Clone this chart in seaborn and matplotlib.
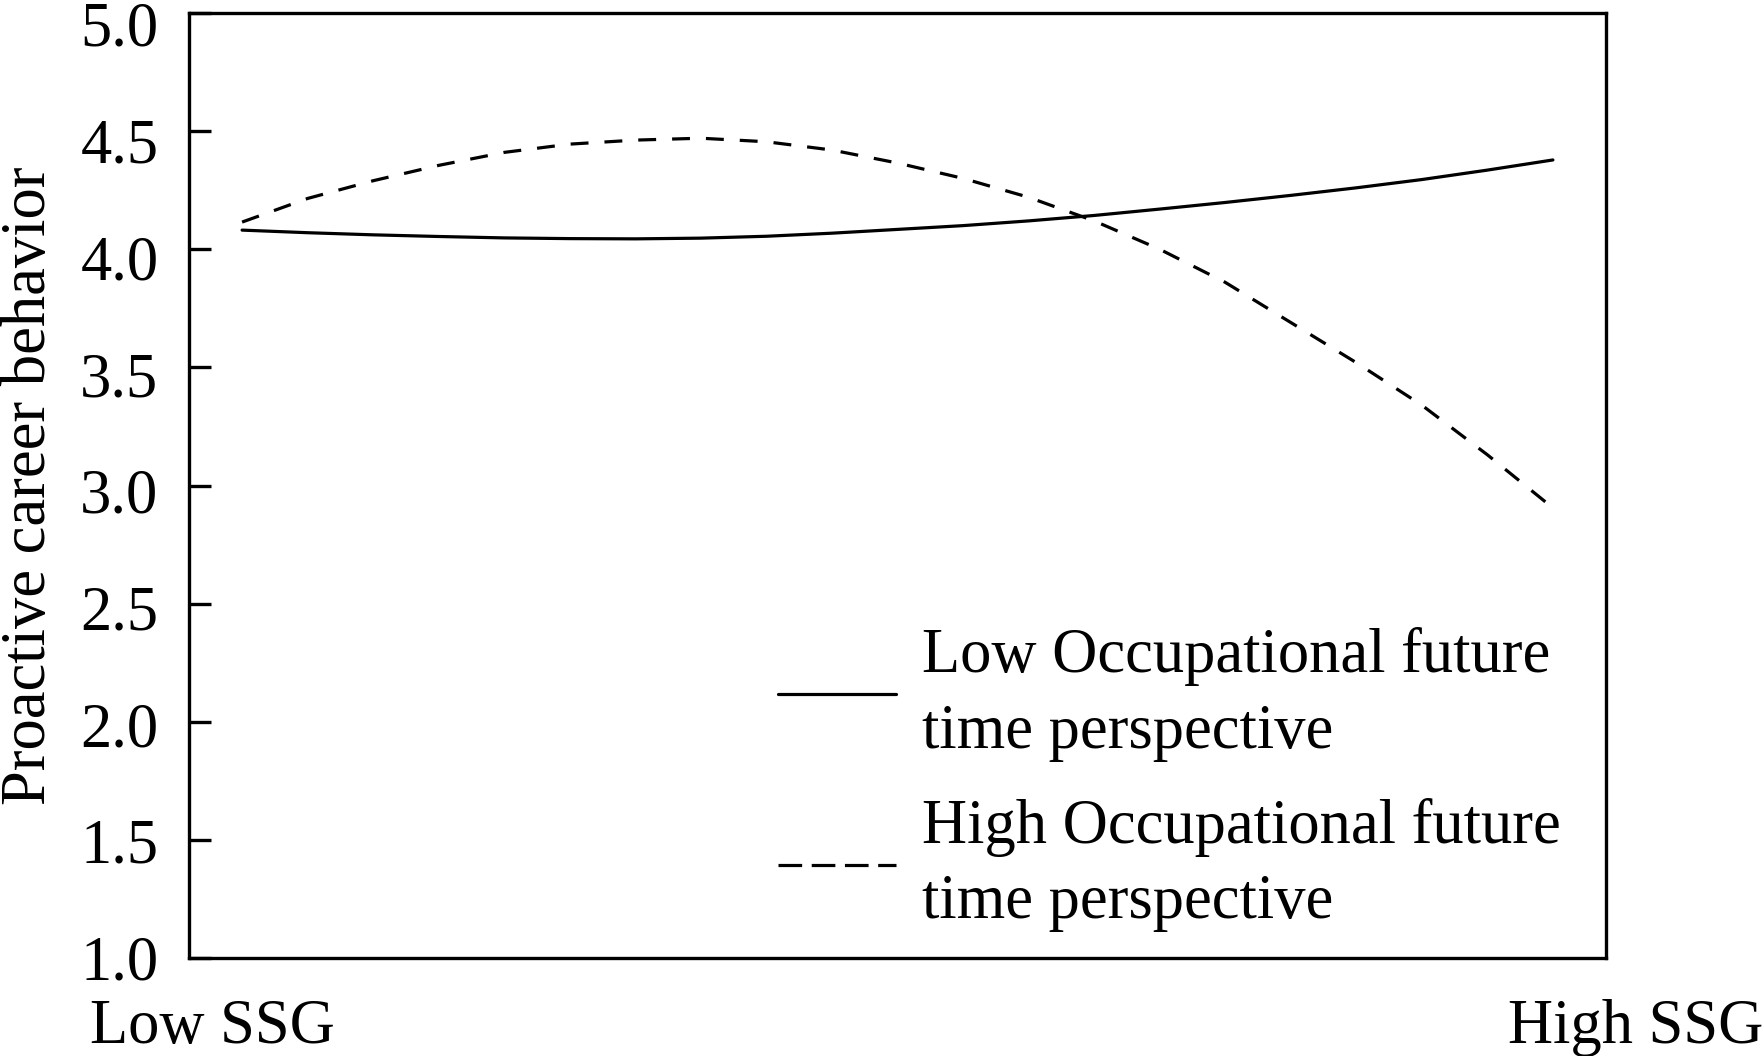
import pandas as pd
import matplotlib
matplotlib.use("Agg")
import matplotlib.pyplot as plt
import matplotlib.transforms as mtransforms
from matplotlib.lines import Line2D
import seaborn as sns

# x position along the SSG axis (0 = Low SSG, 1 = High SSG)
ssg = [0.00, 0.05, 0.10, 0.15, 0.20, 0.25, 0.30, 0.35, 0.40, 0.45, 0.50,
       0.55, 0.60, 0.65, 0.70, 0.75, 0.80, 0.85, 0.90, 0.95, 1.00]

low_oftp = [4.081, 4.070, 4.061, 4.054, 4.048, 4.045, 4.044, 4.047, 4.055, 4.068, 4.084,
            4.100, 4.120, 4.143, 4.170, 4.198, 4.228, 4.260, 4.295, 4.335, 4.378]
high_oftp = [4.115, 4.215, 4.290, 4.355, 4.410, 4.445, 4.462, 4.470, 4.455, 4.420, 4.365,
             4.300, 4.220, 4.120, 4.000, 3.860, 3.690, 3.520, 3.340, 3.130, 2.905]

labels = ["Low Occupational future\ntime perspective",
          "High Occupational future\ntime perspective"]
y_ticks = [1.0, 1.5, 2.0, 2.5, 3.0, 3.5, 4.0, 4.5, 5.0]

sns.set_style("white")
plt.rcParams['font.family'] = ['Liberation Serif', 'DejaVu Serif']
plt.rcParams['text.color'] = 'black'
plt.rcParams['axes.labelcolor'] = 'black'
plt.rcParams['ytick.color'] = 'black'

FS = 45

fig = plt.figure(figsize=(17.65, 10.56), dpi=100)
ax = fig.add_axes([189/1765, 1 - 958/1056, (1606 - 189)/1765, (958 - 13)/1056])

df = pd.DataFrame({"ssg": ssg, "low": low_oftp, "high": high_oftp})

sns.lineplot(data=df, x="ssg", y="low", ax=ax, color="black", linewidth=2.3)
sns.lineplot(data=df, x="ssg", y="high", ax=ax, color="black", linewidth=2.3,
             linestyle=(0, (5.6, 5.0)))

ax.set_xlim(-0.0405, 1.0405)
ax.set_ylim(1.0, 5.0)
ax.set_yticks(y_ticks)
ax.set_yticklabels([f"{v:.1f}" for v in y_ticks])
ax.set_xticks([])
ax.tick_params(axis='y', direction='in', length=16, width=2.4, pad=22,
               labelsize=FS, left=True, colors='black')
for s in ax.spines.values():
    s.set_visible(True)
    s.set_color("black")
    s.set_linewidth(2.4)

# tick labels sit a little below their ticks, more so near the top
for v, lab in zip(y_ticks, ax.get_yticklabels()):
    dy = -(11 - 11.5 * (5.0 - v) / 4) / 100
    lab.set_transform(lab.get_transform() +
                      mtransforms.ScaledTranslation(0, dy, fig.dpi_scale_trans))

ax.set_xlabel('')
ax.set_ylabel('Proactive career behavior', fontsize=FS, labelpad=15)

fig.text(90/1765, 1 - 1043/1056, 'Low SSG', fontsize=FS, ha='left', va='baseline')
fig.text(1763/1765, 1 - 1043/1056, 'High SSG', fontsize=FS, ha='right', va='baseline')

handles = [Line2D([], [], color='black', linewidth=2.3),
           Line2D([], [], color='black', linewidth=2.3, linestyle=(0, (7.4, 3.0)))]
leg = ax.legend(handles, labels, loc='upper left', bbox_to_anchor=(778/1765, 1 - 627/1056),
                bbox_transform=fig.transFigure, frameon=False, fontsize=FS,
                handlelength=1.89, handletextpad=0.42, labelspacing=0.58,
                borderpad=0, borderaxespad=0)
for t in leg.get_texts():
    t.set_linespacing(1.40)

plt.savefig("out.png", dpi=100)
